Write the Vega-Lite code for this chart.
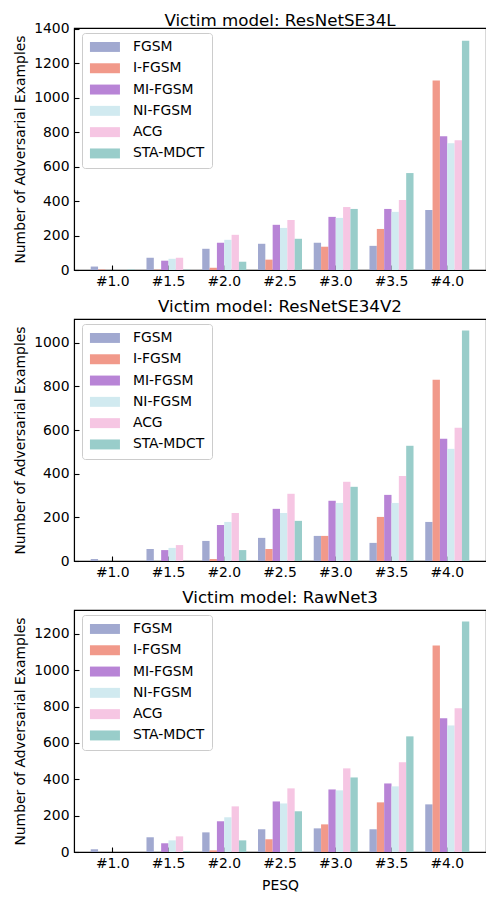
{
  "$schema": "https://vega.github.io/schema/vega-lite/v6.json",
  "padding": {"left": 13, "top": 12, "right": 0, "bottom": 2},
  "spacing": 9,
  "datasets": {
    "d": [
      {"model": "ResNetSE34L", "pesq": "#1.0", "attack": "FGSM", "count": 20},
      {"model": "ResNetSE34L", "pesq": "#1.0", "attack": "I-FGSM", "count": 3},
      {"model": "ResNetSE34L", "pesq": "#1.0", "attack": "MI-FGSM", "count": 0},
      {"model": "ResNetSE34L", "pesq": "#1.0", "attack": "NI-FGSM", "count": 0},
      {"model": "ResNetSE34L", "pesq": "#1.0", "attack": "ACG", "count": 0},
      {"model": "ResNetSE34L", "pesq": "#1.0", "attack": "STA-MDCT", "count": 3},
      {"model": "ResNetSE34L", "pesq": "#1.5", "attack": "FGSM", "count": 71},
      {"model": "ResNetSE34L", "pesq": "#1.5", "attack": "I-FGSM", "count": 2},
      {"model": "ResNetSE34L", "pesq": "#1.5", "attack": "MI-FGSM", "count": 54},
      {"model": "ResNetSE34L", "pesq": "#1.5", "attack": "NI-FGSM", "count": 65},
      {"model": "ResNetSE34L", "pesq": "#1.5", "attack": "ACG", "count": 71},
      {"model": "ResNetSE34L", "pesq": "#1.5", "attack": "STA-MDCT", "count": 2},
      {"model": "ResNetSE34L", "pesq": "#2.0", "attack": "FGSM", "count": 123},
      {"model": "ResNetSE34L", "pesq": "#2.0", "attack": "I-FGSM", "count": 13},
      {"model": "ResNetSE34L", "pesq": "#2.0", "attack": "MI-FGSM", "count": 158},
      {"model": "ResNetSE34L", "pesq": "#2.0", "attack": "NI-FGSM", "count": 175},
      {"model": "ResNetSE34L", "pesq": "#2.0", "attack": "ACG", "count": 204},
      {"model": "ResNetSE34L", "pesq": "#2.0", "attack": "STA-MDCT", "count": 48},
      {"model": "ResNetSE34L", "pesq": "#2.5", "attack": "FGSM", "count": 152},
      {"model": "ResNetSE34L", "pesq": "#2.5", "attack": "I-FGSM", "count": 60},
      {"model": "ResNetSE34L", "pesq": "#2.5", "attack": "MI-FGSM", "count": 262},
      {"model": "ResNetSE34L", "pesq": "#2.5", "attack": "NI-FGSM", "count": 244},
      {"model": "ResNetSE34L", "pesq": "#2.5", "attack": "ACG", "count": 290},
      {"model": "ResNetSE34L", "pesq": "#2.5", "attack": "STA-MDCT", "count": 181},
      {"model": "ResNetSE34L", "pesq": "#3.0", "attack": "FGSM", "count": 158},
      {"model": "ResNetSE34L", "pesq": "#3.0", "attack": "I-FGSM", "count": 135},
      {"model": "ResNetSE34L", "pesq": "#3.0", "attack": "MI-FGSM", "count": 308},
      {"model": "ResNetSE34L", "pesq": "#3.0", "attack": "NI-FGSM", "count": 302},
      {"model": "ResNetSE34L", "pesq": "#3.0", "attack": "ACG", "count": 365},
      {"model": "ResNetSE34L", "pesq": "#3.0", "attack": "STA-MDCT", "count": 354},
      {"model": "ResNetSE34L", "pesq": "#3.5", "attack": "FGSM", "count": 140},
      {"model": "ResNetSE34L", "pesq": "#3.5", "attack": "I-FGSM", "count": 238},
      {"model": "ResNetSE34L", "pesq": "#3.5", "attack": "MI-FGSM", "count": 354},
      {"model": "ResNetSE34L", "pesq": "#3.5", "attack": "NI-FGSM", "count": 337},
      {"model": "ResNetSE34L", "pesq": "#3.5", "attack": "ACG", "count": 406},
      {"model": "ResNetSE34L", "pesq": "#3.5", "attack": "STA-MDCT", "count": 562},
      {"model": "ResNetSE34L", "pesq": "#4.0", "attack": "FGSM", "count": 348},
      {"model": "ResNetSE34L", "pesq": "#4.0", "attack": "I-FGSM", "count": 1098},
      {"model": "ResNetSE34L", "pesq": "#4.0", "attack": "MI-FGSM", "count": 775},
      {"model": "ResNetSE34L", "pesq": "#4.0", "attack": "NI-FGSM", "count": 735},
      {"model": "ResNetSE34L", "pesq": "#4.0", "attack": "ACG", "count": 752},
      {"model": "ResNetSE34L", "pesq": "#4.0", "attack": "STA-MDCT", "count": 1329},

      {"model": "ResNetSE34V2", "pesq": "#1.0", "attack": "FGSM", "count": 9},
      {"model": "ResNetSE34V2", "pesq": "#1.0", "attack": "I-FGSM", "count": 0},
      {"model": "ResNetSE34V2", "pesq": "#1.0", "attack": "MI-FGSM", "count": 0},
      {"model": "ResNetSE34V2", "pesq": "#1.0", "attack": "NI-FGSM", "count": 0},
      {"model": "ResNetSE34V2", "pesq": "#1.0", "attack": "ACG", "count": 0},
      {"model": "ResNetSE34V2", "pesq": "#1.0", "attack": "STA-MDCT", "count": 0},
      {"model": "ResNetSE34V2", "pesq": "#1.5", "attack": "FGSM", "count": 55},
      {"model": "ResNetSE34V2", "pesq": "#1.5", "attack": "I-FGSM", "count": 0},
      {"model": "ResNetSE34V2", "pesq": "#1.5", "attack": "MI-FGSM", "count": 50},
      {"model": "ResNetSE34V2", "pesq": "#1.5", "attack": "NI-FGSM", "count": 60},
      {"model": "ResNetSE34V2", "pesq": "#1.5", "attack": "ACG", "count": 73},
      {"model": "ResNetSE34V2", "pesq": "#1.5", "attack": "STA-MDCT", "count": 0},
      {"model": "ResNetSE34V2", "pesq": "#2.0", "attack": "FGSM", "count": 92},
      {"model": "ResNetSE34V2", "pesq": "#2.0", "attack": "I-FGSM", "count": 9},
      {"model": "ResNetSE34V2", "pesq": "#2.0", "attack": "MI-FGSM", "count": 165},
      {"model": "ResNetSE34V2", "pesq": "#2.0", "attack": "NI-FGSM", "count": 179},
      {"model": "ResNetSE34V2", "pesq": "#2.0", "attack": "ACG", "count": 220},
      {"model": "ResNetSE34V2", "pesq": "#2.0", "attack": "STA-MDCT", "count": 50},
      {"model": "ResNetSE34V2", "pesq": "#2.5", "attack": "FGSM", "count": 106},
      {"model": "ResNetSE34V2", "pesq": "#2.5", "attack": "I-FGSM", "count": 55},
      {"model": "ResNetSE34V2", "pesq": "#2.5", "attack": "MI-FGSM", "count": 239},
      {"model": "ResNetSE34V2", "pesq": "#2.5", "attack": "NI-FGSM", "count": 220},
      {"model": "ResNetSE34V2", "pesq": "#2.5", "attack": "ACG", "count": 308},
      {"model": "ResNetSE34V2", "pesq": "#2.5", "attack": "STA-MDCT", "count": 184},
      {"model": "ResNetSE34V2", "pesq": "#3.0", "attack": "FGSM", "count": 115},
      {"model": "ResNetSE34V2", "pesq": "#3.0", "attack": "I-FGSM", "count": 115},
      {"model": "ResNetSE34V2", "pesq": "#3.0", "attack": "MI-FGSM", "count": 276},
      {"model": "ResNetSE34V2", "pesq": "#3.0", "attack": "NI-FGSM", "count": 266},
      {"model": "ResNetSE34V2", "pesq": "#3.0", "attack": "ACG", "count": 363},
      {"model": "ResNetSE34V2", "pesq": "#3.0", "attack": "STA-MDCT", "count": 340},
      {"model": "ResNetSE34V2", "pesq": "#3.5", "attack": "FGSM", "count": 83},
      {"model": "ResNetSE34V2", "pesq": "#3.5", "attack": "I-FGSM", "count": 202},
      {"model": "ResNetSE34V2", "pesq": "#3.5", "attack": "MI-FGSM", "count": 303},
      {"model": "ResNetSE34V2", "pesq": "#3.5", "attack": "NI-FGSM", "count": 266},
      {"model": "ResNetSE34V2", "pesq": "#3.5", "attack": "ACG", "count": 390},
      {"model": "ResNetSE34V2", "pesq": "#3.5", "attack": "STA-MDCT", "count": 528},
      {"model": "ResNetSE34V2", "pesq": "#4.0", "attack": "FGSM", "count": 179},
      {"model": "ResNetSE34V2", "pesq": "#4.0", "attack": "I-FGSM", "count": 831},
      {"model": "ResNetSE34V2", "pesq": "#4.0", "attack": "MI-FGSM", "count": 560},
      {"model": "ResNetSE34V2", "pesq": "#4.0", "attack": "NI-FGSM", "count": 514},
      {"model": "ResNetSE34V2", "pesq": "#4.0", "attack": "ACG", "count": 611},
      {"model": "ResNetSE34V2", "pesq": "#4.0", "attack": "STA-MDCT", "count": 1056},

      {"model": "RawNet3", "pesq": "#1.0", "attack": "FGSM", "count": 15},
      {"model": "RawNet3", "pesq": "#1.0", "attack": "I-FGSM", "count": 0},
      {"model": "RawNet3", "pesq": "#1.0", "attack": "MI-FGSM", "count": 0},
      {"model": "RawNet3", "pesq": "#1.0", "attack": "NI-FGSM", "count": 0},
      {"model": "RawNet3", "pesq": "#1.0", "attack": "ACG", "count": 0},
      {"model": "RawNet3", "pesq": "#1.0", "attack": "STA-MDCT", "count": 0},
      {"model": "RawNet3", "pesq": "#1.5", "attack": "FGSM", "count": 81},
      {"model": "RawNet3", "pesq": "#1.5", "attack": "I-FGSM", "count": 0},
      {"model": "RawNet3", "pesq": "#1.5", "attack": "MI-FGSM", "count": 48},
      {"model": "RawNet3", "pesq": "#1.5", "attack": "NI-FGSM", "count": 64},
      {"model": "RawNet3", "pesq": "#1.5", "attack": "ACG", "count": 86},
      {"model": "RawNet3", "pesq": "#1.5", "attack": "STA-MDCT", "count": 4},
      {"model": "RawNet3", "pesq": "#2.0", "attack": "FGSM", "count": 108},
      {"model": "RawNet3", "pesq": "#2.0", "attack": "I-FGSM", "count": 9},
      {"model": "RawNet3", "pesq": "#2.0", "attack": "MI-FGSM", "count": 169},
      {"model": "RawNet3", "pesq": "#2.0", "attack": "NI-FGSM", "count": 191},
      {"model": "RawNet3", "pesq": "#2.0", "attack": "ACG", "count": 251},
      {"model": "RawNet3", "pesq": "#2.0", "attack": "STA-MDCT", "count": 64},
      {"model": "RawNet3", "pesq": "#2.5", "attack": "FGSM", "count": 125},
      {"model": "RawNet3", "pesq": "#2.5", "attack": "I-FGSM", "count": 70},
      {"model": "RawNet3", "pesq": "#2.5", "attack": "MI-FGSM", "count": 278},
      {"model": "RawNet3", "pesq": "#2.5", "attack": "NI-FGSM", "count": 267},
      {"model": "RawNet3", "pesq": "#2.5", "attack": "ACG", "count": 350},
      {"model": "RawNet3", "pesq": "#2.5", "attack": "STA-MDCT", "count": 224},
      {"model": "RawNet3", "pesq": "#3.0", "attack": "FGSM", "count": 130},
      {"model": "RawNet3", "pesq": "#3.0", "attack": "I-FGSM", "count": 152},
      {"model": "RawNet3", "pesq": "#3.0", "attack": "MI-FGSM", "count": 344},
      {"model": "RawNet3", "pesq": "#3.0", "attack": "NI-FGSM", "count": 339},
      {"model": "RawNet3", "pesq": "#3.0", "attack": "ACG", "count": 460},
      {"model": "RawNet3", "pesq": "#3.0", "attack": "STA-MDCT", "count": 410},
      {"model": "RawNet3", "pesq": "#3.5", "attack": "FGSM", "count": 125},
      {"model": "RawNet3", "pesq": "#3.5", "attack": "I-FGSM", "count": 273},
      {"model": "RawNet3", "pesq": "#3.5", "attack": "MI-FGSM", "count": 377},
      {"model": "RawNet3", "pesq": "#3.5", "attack": "NI-FGSM", "count": 361},
      {"model": "RawNet3", "pesq": "#3.5", "attack": "ACG", "count": 493},
      {"model": "RawNet3", "pesq": "#3.5", "attack": "STA-MDCT", "count": 636},
      {"model": "RawNet3", "pesq": "#4.0", "attack": "FGSM", "count": 262},
      {"model": "RawNet3", "pesq": "#4.0", "attack": "I-FGSM", "count": 1136},
      {"model": "RawNet3", "pesq": "#4.0", "attack": "MI-FGSM", "count": 735},
      {"model": "RawNet3", "pesq": "#4.0", "attack": "NI-FGSM", "count": 696},
      {"model": "RawNet3", "pesq": "#4.0", "attack": "ACG", "count": 790},
      {"model": "RawNet3", "pesq": "#4.0", "attack": "STA-MDCT", "count": 1268}
    ]
  },
  "data": {"name": "d"},
  "resolve": {"scale": {"y": "independent", "color": "independent", "x": "independent"}, "legend": {"color": "independent"}},
  "vconcat": [
    {
      "width": 412, "height": 242,
      "title": {"text": "Victim model: ResNetSE34L", "fontWeight": "normal", "offset": -8},
      "transform": [{"filter": "datum.model === 'ResNetSE34L'"}],
      "mark": {"type": "bar"},
      "encoding": {
        "x": {"field": "pesq", "type": "nominal", "sort": ["#1.0","#1.5","#2.0","#2.5","#3.0","#3.5","#4.0"], "title": null,
              "scale": {"paddingInner": 0.21, "paddingOuter": 0.3}},
        "xOffset": {"field": "attack", "type": "nominal", "sort": ["FGSM","I-FGSM","MI-FGSM","NI-FGSM","ACG","STA-MDCT"], "scale": {"paddingInner": 0, "paddingOuter": 0}},
        "y": {"field": "count", "type": "quantitative", "title": "Number of Adversarial Examples",
              "scale": {"domain": [0, 1403], "nice": false},
              "axis": {"values": [0,200,400,600,800,1000,1200,1400], "format": "d"}},
        "color": {"field": "attack", "type": "nominal", "sort": ["FGSM","I-FGSM","MI-FGSM","NI-FGSM","ACG","STA-MDCT"],
                  "scale": {"domain": ["FGSM","I-FGSM","MI-FGSM","NI-FGSM","ACG","STA-MDCT"], "range": ["#a1a9d0","#f1998a","#b884d6","#d1eaf0","#f6c6e3","#99cdca"]},
                  "title": null}
      }
    },
    {
      "width": 412, "height": 242,
      "title": {"text": "Victim model: ResNetSE34V2", "fontWeight": "normal"},
      "transform": [{"filter": "datum.model === 'ResNetSE34V2'"}],
      "mark": {"type": "bar"},
      "encoding": {
        "x": {"field": "pesq", "type": "nominal", "sort": ["#1.0","#1.5","#2.0","#2.5","#3.0","#3.5","#4.0"], "title": null,
              "scale": {"paddingInner": 0.21, "paddingOuter": 0.3}},
        "xOffset": {"field": "attack", "type": "nominal", "sort": ["FGSM","I-FGSM","MI-FGSM","NI-FGSM","ACG","STA-MDCT"], "scale": {"paddingInner": 0, "paddingOuter": 0}},
        "y": {"field": "count", "type": "quantitative", "title": "Number of Adversarial Examples",
              "scale": {"domain": [0, 1109], "nice": false},
              "axis": {"values": [0,200,400,600,800,1000], "format": "d"}},
        "color": {"field": "attack", "type": "nominal", "sort": ["FGSM","I-FGSM","MI-FGSM","NI-FGSM","ACG","STA-MDCT"],
                  "scale": {"domain": ["FGSM","I-FGSM","MI-FGSM","NI-FGSM","ACG","STA-MDCT"], "range": ["#a1a9d0","#f1998a","#b884d6","#d1eaf0","#f6c6e3","#99cdca"]},
                  "title": null}
      }
    },
    {
      "width": 412, "height": 242,
      "title": {"text": "Victim model: RawNet3", "fontWeight": "normal"},
      "transform": [{"filter": "datum.model === 'RawNet3'"}],
      "mark": {"type": "bar"},
      "encoding": {
        "x": {"field": "pesq", "type": "nominal", "sort": ["#1.0","#1.5","#2.0","#2.5","#3.0","#3.5","#4.0"], "title": "PESQ",
              "scale": {"paddingInner": 0.21, "paddingOuter": 0.3}},
        "xOffset": {"field": "attack", "type": "nominal", "sort": ["FGSM","I-FGSM","MI-FGSM","NI-FGSM","ACG","STA-MDCT"], "scale": {"paddingInner": 0, "paddingOuter": 0}},
        "y": {"field": "count", "type": "quantitative", "title": "Number of Adversarial Examples",
              "scale": {"domain": [0, 1331], "nice": false},
              "axis": {"values": [0,200,400,600,800,1000,1200], "format": "d"}},
        "color": {"field": "attack", "type": "nominal", "sort": ["FGSM","I-FGSM","MI-FGSM","NI-FGSM","ACG","STA-MDCT"],
                  "scale": {"domain": ["FGSM","I-FGSM","MI-FGSM","NI-FGSM","ACG","STA-MDCT"], "range": ["#a1a9d0","#f1998a","#b884d6","#d1eaf0","#f6c6e3","#99cdca"]},
                  "title": null}
      }
    }
  ],
  "config": {
    "font": "DejaVu Sans",
    "view": {"stroke": "black", "strokeWidth": 1.1},
    "title": {"fontSize": 16.7, "fontWeight": "normal", "color": "black", "offset": 3, "baseline": "alphabetic", "anchor": "middle"},
    "axis": {
      "grid": false,
      "domainColor": "black", "domainWidth": 1.1,
      "tickColor": "black", "tickWidth": 1.1, "tickSize": -5,
      "labelFontSize": 13.9, "labelColor": "black", "labelPadding": 9,
      "titleFontSize": 13.9, "titleFontWeight": "normal", "titleColor": "black"
    },
    "axisX": {"labelAngle": 0, "titlePadding": 9},
    "axisY": {"titlePadding": 6, "labelPadding": 10},
    "legend": {
      "orient": "none", "legendX": 8, "legendY": 5,
      "padding": 7, "rowPadding": 6.3,
      "symbolType": "M-1,-0.83H4V0.83H-1Z", "symbolSize": 144,
      "symbolStrokeWidth": 0, "symbolOpacity": 1,
      "labelFontSize": 13.9, "labelColor": "black", "labelOffset": 30,
      "fillColor": "rgba(255,255,255,0.8)", "strokeColor": "#cccccc", "cornerRadius": 3
    }
  }
}
